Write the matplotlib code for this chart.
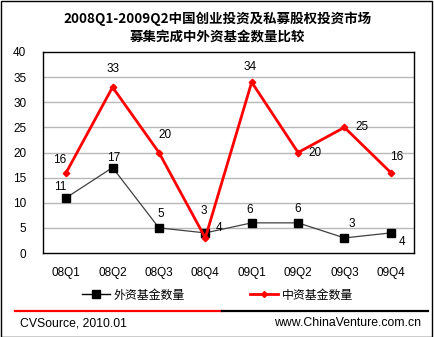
import matplotlib
matplotlib.use("Agg")
import matplotlib.pyplot as plt
from matplotlib.lines import Line2D
from matplotlib.patches import Rectangle

plt.rcParams['font.family'] = ['Liberation Sans', 'Noto Sans CJK SC', 'DejaVu Sans']

quarters = ['08Q1', '08Q2', '08Q3', '08Q4', '09Q1', '09Q2', '09Q3', '09Q4']
foreign = [11, 17, 5, 4, 6, 6, 3, 4]
domestic = [16, 33, 20, 3, 34, 20, 25, 16]
foreign_name = '外资基金数量'
domestic_name = '中资基金数量'
title = '2008Q1-2009Q2中国创业投资及私募股权投资市场\n募集完成中外资基金数量比较'

# label offsets in pixels (dx, dy up)
dom_off = [(-7, 13), (0, 18), (6, 17), (-2, 27), (-2, 15), (17, 0), (18, 0), (6, 16)]
for_off = [(-6, 11), (1, 10), (2, 14), (14, 5), (-2, 13), (0, 14), (7, 14), (11, -9)]

W, H = 435, 337
fig = plt.figure(figsize=(W / 100, H / 100), dpi=100)

# plot area in pixels: left 43, right 414, top 52, bottom 253
ax = fig.add_axes([43 / W, 1 - 253 / H, 371 / W, 201 / H])
x = range(len(quarters))
ax.plot(x, foreign, color='#404040', lw=0.9, marker='s', ms=5.5,
        mfc='black', mec='black', zorder=3)
ax.plot(x, domestic, color='#ff0000', lw=2, marker='D', ms=3.3,
        mfc='#ff0000', mec='#ff0000', zorder=4)

for i in x:
    dx, dy = dom_off[i]
    ax.annotate(str(domestic[i]), (i, domestic[i]), xytext=(dx, dy),
                textcoords='offset pixels', ha='center', va='center', fontsize=8.5)
    dx, dy = for_off[i]
    ax.annotate(str(foreign[i]), (i, foreign[i]), xytext=(dx, dy),
                textcoords='offset pixels', ha='center', va='center', fontsize=8.5)

ax.set_xlim(-0.5, len(quarters) - 0.5)
ax.set_ylim(0, 40)
ax.set_yticks(range(0, 45, 5))
ax.set_xticks(list(x))
ax.set_xticklabels(quarters)
ax.tick_params(length=0, labelsize=8.5)
ax.tick_params(axis='x', pad=10)
ax.tick_params(axis='y', pad=12)
for v in range(5, 40, 5):
    ax.axhline(v, color='#b8b8b8', lw=1, zorder=1)
for s in ax.spines.values():
    s.set_color('black')
    s.set_linewidth(1)

# title
fig.text(0.5, 1 - 28 / H, title, ha='center', va='center', fontsize=9.7,
         fontweight='bold', family=['Noto Sans CJK SC'], linespacing=1.45)

# legend
leg_handles = [
    Line2D([], [], color='black', lw=1, marker='s', ms=5.5, mfc='black'),
    Line2D([], [], color='#ff0000', lw=2, marker='D', ms=3, mfc='#ff0000'),
]
fig.legend(leg_handles, [foreign_name, domestic_name], loc='center',
           bbox_to_anchor=(0.5, 1 - 295 / H), ncol=2, frameon=False,
           prop={'family': ['Noto Sans CJK SC'], 'size': 8.6},
           handlelength=2.3, handletextpad=0.3, columnspacing=5.5)

# footer
fig.add_artist(Line2D([15 / W, 222 / W], [1 - 311 / H] * 2, color='#ff0000', lw=1.6))
fig.add_artist(Line2D([222 / W, 428 / W], [1 - 311 / H] * 2, color='black', lw=1.6))
fig.text(20 / W, 1 - 323 / H, 'CVSource, 2010.01', ha='left', va='center', fontsize=8.8)
fig.text(421 / W, 1 - 323 / H, 'www.ChinaVenture.com.cn', ha='right', va='center', fontsize=8.8)

# outer frame
fig.add_artist(Rectangle((1.5 / W, 0.5 / H), 430.5 / W, 1 - 1.5 / H,
                         transform=fig.transFigure, fill=False, ec='black', lw=1))

fig.savefig('out.png', dpi=100)
